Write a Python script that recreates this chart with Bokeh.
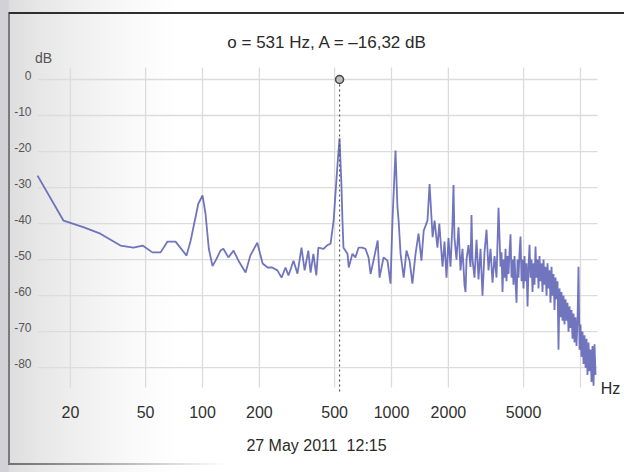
from bokeh.plotting import figure
from bokeh.models import Range1d, Label
from bokeh.core.properties import value
from bokeh.embed import file_html
from bokeh.resources import INLINE

# ---- spectrum data -------------------------------------------------------
freq_hz = [
    13.4, 18.4, 23.4, 28.8, 36.8, 43.1, 48.2, 54.3, 60.0, 65.3, 72.0, 82.3, 86.6,
    95.0, 100.0, 103.7, 108.0, 113.0, 118.0, 124.5, 129.0, 137.0, 146.0, 155.0,
    169.0, 179.0, 195.0, 208.0, 221.0, 234.0, 249.0, 262.0, 275.0, 285.0, 303.0,
    318.0, 334.0, 347.0, 363.0, 373.0, 386.0, 400.0, 410.0, 437.0, 458.0, 476.0,
    494.0, 511.0, 524.0, 531.0, 544.0, 550.0, 557.0, 585.0, 594.0, 621.0, 644.0,
    669.0, 700.0, 728.0, 756.0, 775.0, 803.0, 845.0, 864.0, 908.0, 952.0, 988.0,
    1012, 1050, 1075, 1090, 1117, 1160, 1200, 1246, 1290, 1340, 1390, 1440, 1480,
    1550, 1590, 1650, 1690, 1750, 1790,
    1862, 1907, 1954, 2002, 2052, 2102, 2128, 2154, 2207, 2262, 2318, 2375, 2433,
    2464, 2494, 2555, 2618, 2650, 2683, 2749, 2817, 2886, 2958, 3030, 3105, 3182,
    3260, 3341, 3423, 3508, 3594, 3683,
    3774, 3820, 3867, 3914, 3963, 4011, 4060, 4110, 4160, 4210, 4263, 4314, 4368,
    4420, 4476, 4530, 4586, 4642, 4699, 4756, 4815, 4874, 4934, 4994, 5055, 5117,
    5180, 5245, 5308, 5373, 5439, 5506, 5573, 5641, 5710, 5780, 5851, 5922, 5995,
    6069, 6143, 6218, 6295, 6372, 6450, 6529, 6609, 6690, 6772, 6855, 6939, 7025,
    7110, 7197, 7285, 7375, 7465, 7556, 7649, 7743, 7838, 7934, 8031, 8130, 8229,
    8330, 8432, 8535, 8640, 8746, 8853, 8962, 9071, 9183, 9294, 9409, 9524, 9641,
    9759, 9879, 10000, 10122, 10246, 10373, 10500, 10629, 10759, 10889, 11024,
    11157, 11296, 11434, 11574, 11717, 11860, 12007,
]
level_db = [
    -26.7, -39.2, -41.0, -42.8, -46.1, -46.7, -46.1, -48.0, -48.0, -45.0, -45.0, -48.9, -44.7,
    -34.5, -32.2, -37.2, -47.0, -51.8, -50.0, -47.5, -47.0, -49.4, -47.5, -50.3,
    -53.6, -48.9, -45.3, -51.1, -52.2, -52.2, -53.0, -55.0, -52.2, -54.4, -50.3,
    -53.9, -46.7, -53.0, -47.5, -53.6, -48.4, -54.4, -46.7, -47.0, -46.0, -45.6,
    -39.2, -28.0, -20.0, -16.32, -30.0, -39.0, -46.7, -48.4, -52.2, -48.4, -49.4,
    -46.7, -46.7, -47.0, -49.4, -54.0, -50.3, -44.7, -55.0, -49.4, -50.3, -56.7,
    -39.0, -19.7, -35.5, -39.0, -48.4, -55.0, -47.5, -50.3, -56.7, -48.4, -42.8, -50.3, -42.0,
    -39.2, -29.0, -43.8, -39.2, -46.7, -40.0,
    -52, -45, -55, -44, -52, -40, -29.3, -44, -50, -41, -53, -47, -57,
    -59, -50, -46, -52, -37.6, -50, -55, -44.5, -55.5, -47, -60, -48, -41.7,
    -53, -47, -56.4, -49, -55, -35.6,
    -52, -48, -59, -50, -55, -47, -56, -49, -54, -48, -43, -55, -50,
    -57, -49, -56, -62, -50, -55, -48, -43.6, -56, -50, -58, -49, -56,
    -51, -63, -52, -45.9, -55, -50, -59, -51, -57, -46.4, -55, -50, -58,
    -49, -56, -51, -59, -50, -57, -52, -60, -51, -58, -53, -62, -52,
    -60, -54, -64, -55, -61, -56, -75, -58, -66, -59, -67, -60, -68,
    -61, -67, -62, -70, -63, -69, -64, -72, -65, -73, -66, -74, -67,
    -52, -75, -68, -77, -70, -79, -71, -80, -72, -82, -73,
    -81, -75, -84, -74, -85, -73.5, -82,
]

# cursor readout
marker_freq = 531
marker_level = -16.32

x_ticks = [20, 50, 100, 200, 500, 1000, 2000, 5000, 10000]
x_tick_labels = ["20", "50", "100", "200", "500", "1000", "2000", "5000", ""]
y_ticks = [0, -10, -20, -30, -40, -50, -60, -70, -80]
y_tick_labels = ["0", "-10", "-20", "-30", "-40", "-50", "-60", "-70", "-80"]

FONT = "Liberation Sans"
W, H = 624, 472

# The whole canvas is the data frame, so the header, footer and unit texts
# can sit around the grid without being clipped.
F_MIN, F_MAX = 8.535, 17090          # canvas left / right edge, Hz
DB_MIN, DB_MAX = -109.11, 21.93      # canvas bottom / top edge, dB
GRID_F = (13.4, 12300)               # horizontal extent of the grid
GRID_DB = (-85.5, 3.33)              # vertical extent of the grid
CURSOR_BOTTOM = -86.9

p = figure(
    width=W, height=H,
    x_axis_type="log",
    x_range=Range1d(F_MIN, F_MAX),
    y_range=Range1d(DB_MIN, DB_MAX),
    output_backend="svg",
    toolbar_location=None,
    min_border=0,
)
p.xaxis.visible = False
p.yaxis.visible = False
p.xgrid.visible = False
p.ygrid.visible = False
p.outline_line_color = None

# paper-like shading and card edges behind a transparent canvas
p.background_fill_alpha = 0
p.border_fill_alpha = 0
p.styles = {
    "background": (
        "linear-gradient(#2e2e2e,#2e2e2e) 9px 12px / 615px 2px no-repeat,"
        "linear-gradient(#7a7a7a,#7a7a7a) 8px 12px / 2px 452px no-repeat,"
        "linear-gradient(to right,#707070,rgba(150,150,150,0)) 8px 463px / 220px 2px no-repeat,"
        "linear-gradient(to right,#d2d2d6 0px,#d2d2d6 8px,#dedee0 10px,#e7e7e7 40px,"
        "#f0f0f0 80px,#f9f9f9 130px,#ffffff 180px)"
    )
}

# grid
grid_color = "#dcdcdc"
p.segment(x0=x_ticks, x1=x_ticks,
          y0=[GRID_DB[0]] * len(x_ticks), y1=[GRID_DB[1]] * len(x_ticks),
          line_color=grid_color, line_width=1.3)
p.segment(x0=[GRID_F[0]] * len(y_ticks), x1=[GRID_F[1]] * len(y_ticks),
          y0=y_ticks, y1=y_ticks, line_color=grid_color, line_width=1.3)

# tick labels
p.text(x=x_ticks, y=[-92.2] * len(x_ticks), text=x_tick_labels,
       text_font=value(FONT), text_font_size="16px", text_color="#303030",
       text_align="center", text_baseline="middle")
p.text(x=[12.45] * len(y_ticks), y=[t + 1.1 for t in y_ticks], text=y_tick_labels,
       text_font=value(FONT), text_font_size="12px", text_color="#555555",
       text_align="right", text_baseline="middle")

# spectrum trace
p.line(freq_hz, level_db, line_color="#575db2", line_width=1.8, line_alpha=0.85)

# cursor: dotted line from the marker down to the bottom of the grid
p.segment(x0=[marker_freq], y0=[0], x1=[marker_freq], y1=[CURSOR_BOTTOM],
          line_color="#555555", line_width=1.2, line_dash="2 3")
p.scatter([marker_freq], [0], marker="circle", size=8,
          fill_color="#bdbdbd", line_color="#444444", line_width=1.5)


# texts, placed in canvas pixels (x from the left, y from the top)
def page_label(x, y_top, text, size, color):
    p.add_layout(Label(x=x, y=H - y_top, x_units="screen", y_units="screen",
                       text=text, text_align="center", text_baseline="middle",
                       text_font=FONT, text_font_size=size, text_color=color))


readout = f"o = {marker_freq} Hz, A = \u2013{abs(marker_level):.2f} dB".replace(".", ",")
page_label(327, 42, readout, "17px", "#2a2a2a")
page_label(316, 445, "27 May 2011\u00a0 12:15", "16px", "#2a2a2a")
page_label(43, 57, "dB", "14px", "#555555")
page_label(610, 388, "Hz", "16px", "#2a2a2a")

open("out.html", "w").write(file_html(p, INLINE))
